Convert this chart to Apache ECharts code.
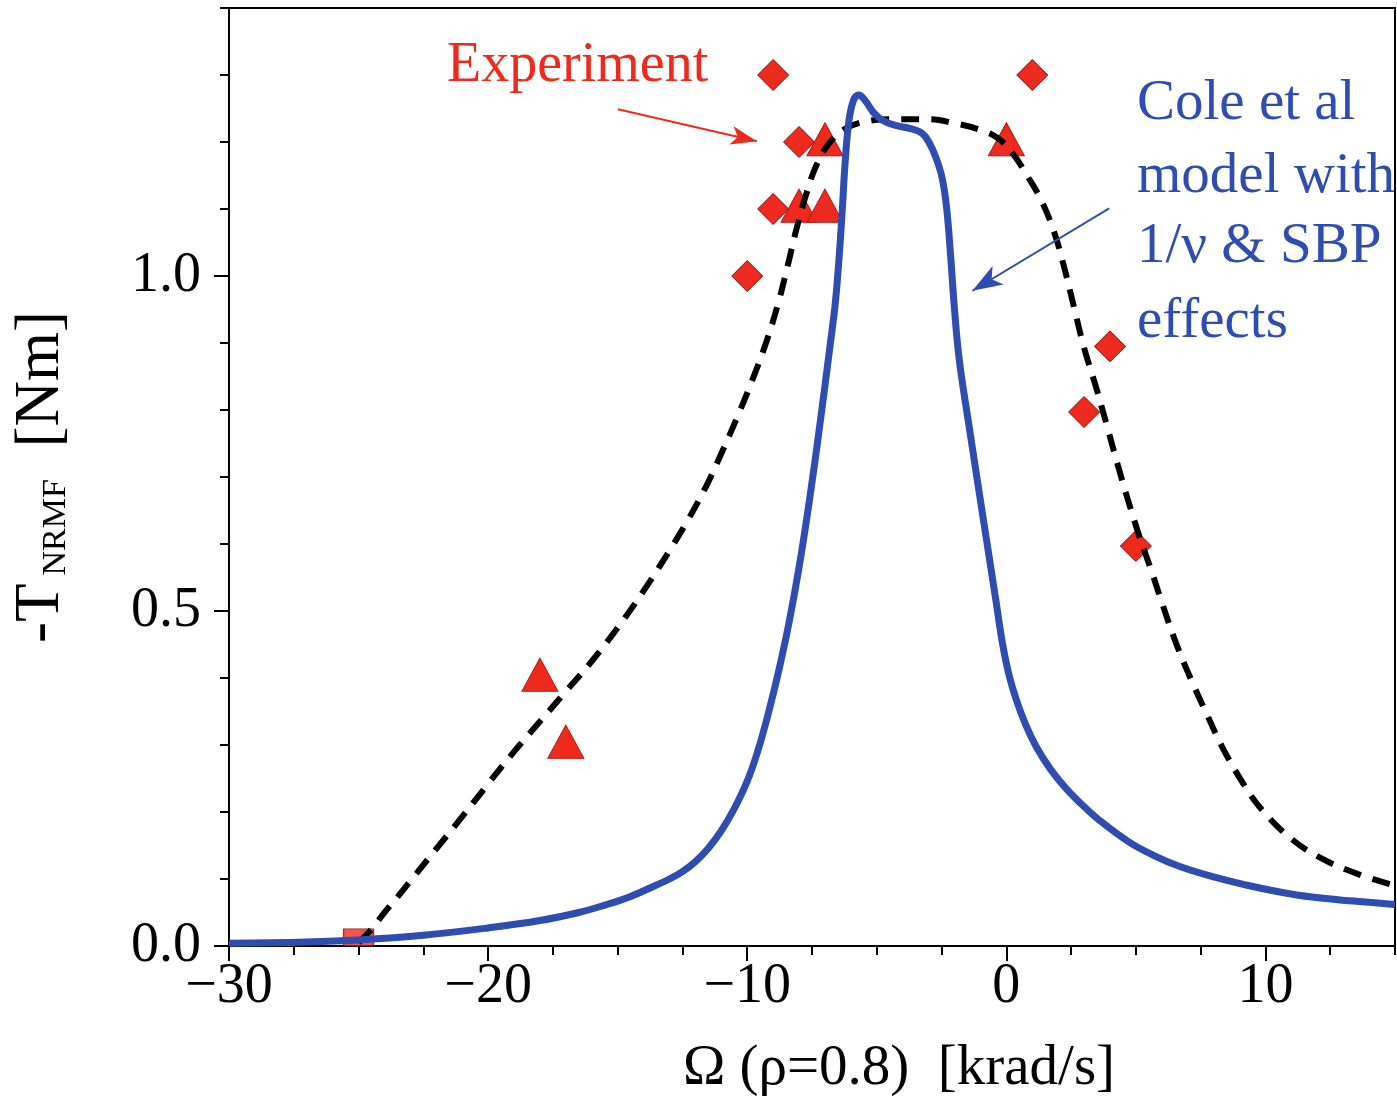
<!DOCTYPE html>
<html style="height: 100%">
<head>
    <meta charset="utf-8">
    <script src="https://cdn.jsdelivr.net/npm/echarts@6/dist/echarts.min.js"></script>
</head>
<body style="height: 100%; margin: 0; background: #fff">
    <div id="main" style="width: 1397px; height: 1096px"></div>
    <script type="text/javascript">
        // 实验点（菱形）
        var diamondX = [-9, 1, -8, -9, -10, 4, 3, 5];
        var diamondY = [1.3, 1.3, 1.2, 1.1, 1.0, 0.895, 0.797, 0.597];
        // 实验点（三角形）
        var triangleX = [-7, -8, -7, 0, -18, -17];
        var triangleY = [1.204, 1.105, 1.105, 1.204, 0.405, 0.305];
        // 方块
        var squareX = [-25];
        var squareY = [0.013];

        // 虚线 (黑)
        var dashX = [-25, -24.5, -24, -23.5, -23, -22, -21, -20, -19, -18, -17, -16, -15, -14, -13, -12.3,
            -11.6, -11, -10.4, -9.8, -9.25, -8.8, -8.44, -8.1, -7.7, -7.3, -6.8, -6.2, -5.5, -4.5, -3, -2,
            -1, -0.3, 0.3, 0.8, 1.35, 1.85, 2.24, 2.62, 3.0, 3.47, 3.9, 4.3, 4.7, 5.13, 5.6, 6.0, 6.55,
            7.17, 7.75, 8.32, 9.1, 9.87, 11.0, 12.2, 13.6, 15];
        var dashY = [0.005, 0.025, 0.05, 0.073, 0.097, 0.145, 0.193, 0.242, 0.29, 0.335, 0.38, 0.425, 0.475,
            0.53, 0.59, 0.635, 0.685, 0.735, 0.788, 0.845, 0.903, 0.96, 1.015, 1.07, 1.125, 1.168, 1.2, 1.22,
            1.23, 1.234, 1.234, 1.228, 1.218, 1.205, 1.18, 1.15, 1.113, 1.065, 1.012, 0.952, 0.893, 0.833,
            0.774, 0.718, 0.665, 0.612, 0.56, 0.513, 0.452, 0.394, 0.345, 0.298, 0.245, 0.203, 0.16, 0.13,
            0.107, 0.09];

        // Cole et al 模型 (蓝)
        var modelX = [-30, -27, -25, -22.5, -20, -18, -16.5, -15.5, -14.5, -13.5, -13, -12.5, -12, -11.5, -11,
            -10.5, -10, -9.6, -9.2, -8.8, -8.4, -8, -7.6, -7.2, -6.8, -6.6, -6.45, -6.33, -6.22, -6.08, -5.9,
            -5.7, -5.45, -5.15, -4.8, -4.3, -3.7, -3.25, -2.95, -2.7, -2.47, -2.3, -2.15, -2.0, -1.81, -1.43,
            -1.04, -0.66, -0.4, -0.15, 0.1, 0.39, 0.75, 1.16, 1.7, 2.31, 3.0, 3.58, 4.74, 5.7, 6.67, 8, 9.25,
            10.5, 11.8, 13.4, 15];
        var modelY = [0.004, 0.006, 0.009, 0.016, 0.027, 0.038, 0.05, 0.061, 0.074, 0.091, 0.1, 0.111, 0.126,
            0.146, 0.172, 0.205, 0.246, 0.29, 0.345, 0.408, 0.48, 0.565, 0.665, 0.777, 0.897, 0.96, 1.03,
            1.1, 1.17, 1.23, 1.262, 1.27, 1.262, 1.245, 1.233, 1.225, 1.22, 1.213, 1.197, 1.175, 1.145, 1.1,
            1.03, 0.95, 0.873, 0.774, 0.675, 0.58, 0.515, 0.452, 0.405, 0.367, 0.33, 0.297, 0.264, 0.235,
            0.208, 0.188, 0.155, 0.135, 0.119, 0.103, 0.091, 0.081, 0.073, 0.067, 0.062];

        // 箭头（数据坐标）
        var redArrow = [[-14.99, 1.249], [-9.63, 1.201]];
        var blueArrow = [[3.97, 1.101], [-1.31, 0.978]];

        function pairs(xs, ys) {
            return xs.map(function (x, i) { return [x, ys[i]]; });
        }

        var serif = 'Liberation Serif';
        var red = '#ee2a1e';
        var blue = '#2f4cb0';

        var myChart = echarts.init(document.getElementById('main'));

        var option = {
            backgroundColor: '#fff',
            animation: false,
            grid: {
                left: 229, right: 2, top: 8, bottom: 150,
                outerBoundsMode: 'none', containLabel: false,
                show: true, borderColor: '#000', borderWidth: 2
            },
            xAxis: [
                {
                    type: 'value', min: -30, max: 15, interval: 10, position: 'bottom',
                    axisLine: { onZero: false, lineStyle: { color: '#000', width: 2 } },
                    axisTick: { length: 15, lineStyle: { color: '#000', width: 2 } },
                    splitLine: { show: false },
                    axisLabel: {
                        showMaxLabel: false, margin: 13, color: '#000',
                        fontFamily: serif, fontSize: 56,
                        formatter: function (v) { return String(v).replace('-', '\u2212'); }
                    },
                    name: '\u03a9 (\u03c1=0.8)  [krad/s]',
                    nameLocation: 'middle', nameGap: 95,
                    nameTextStyle: { color: '#000', fontFamily: serif, fontSize: 57, padding: [0, 0, 0, 174] }
                },
                {
                    type: 'value', min: -30, max: 15, interval: 2.5, position: 'bottom',
                    axisLine: { show: false, onZero: false },
                    axisTick: { length: 9, lineStyle: { color: '#000', width: 2 } },
                    axisLabel: { show: false },
                    splitLine: { show: false }
                }
            ],
            yAxis: [
                {
                    type: 'value', min: 0, max: 1.4, interval: 0.5, position: 'left',
                    axisLine: { onZero: false, lineStyle: { color: '#000', width: 2 } },
                    axisTick: { length: 15, lineStyle: { color: '#000', width: 2 } },
                    splitLine: { show: false },
                    axisLabel: {
                        showMaxLabel: false, margin: 28, color: '#000',
                        fontFamily: serif, fontSize: 56,
                        formatter: function (v) { return v.toFixed(1); }
                    },
                    name: '{a|-T}{sub|NRMF}{a|  [Nm]}',
                    nameLocation: 'middle', nameRotate: 90, nameGap: 156,
                    nameTextStyle: {
                        color: '#000', fontFamily: serif, fontSize: 63,
                        rich: {
                            a: { fontFamily: serif, fontSize: 63, color: '#000' },
                            sub: { fontFamily: serif, fontSize: 34, color: '#000', verticalAlign: 'bottom', padding: [0, 0, 0, 8] }
                        }
                    }
                },
                {
                    type: 'value', min: 0, max: 1.4, interval: 0.1, position: 'left',
                    axisLine: { show: false, onZero: false },
                    axisTick: { length: 9, lineStyle: { color: '#000', width: 2 } },
                    axisLabel: { show: false },
                    splitLine: { show: false }
                }
            ],
            series: [
                {
                    name: 'square', type: 'scatter', z: 1,
                    symbol: 'rect', symbolSize: [30, 17],
                    itemStyle: { color: red, borderColor: '#8a1010', borderWidth: 1 },
                    data: pairs(squareX, squareY)
                },
                {
                    name: 'diamond', type: 'scatter', z: 2,
                    symbol: 'diamond', symbolSize: 31,
                    itemStyle: { color: red, borderColor: '#7a1010', borderWidth: 1, opacity: 1 },
                    data: pairs(diamondX, diamondY)
                },
                {
                    name: 'triangle', type: 'scatter', z: 2,
                    symbol: 'triangle', symbolSize: [36, 33],
                    itemStyle: { color: red, borderColor: '#b01810', borderWidth: 1, opacity: 1 },
                    data: pairs(triangleX, triangleY)
                },
                {
                    name: 'Experiment fit', type: 'line', z: 3,
                    showSymbol: false, smooth: 0.4,
                    lineStyle: { color: '#000', width: 6, type: [18, 12] },
                    data: pairs(dashX, dashY),
                    markLine: {
                        silent: true, animation: false,
                        label: { show: false },
                        lineStyle: { color: red, width: 2, type: 'solid' },
                        data: [[
                            { coord: redArrow[0], symbol: 'none' },
                            { coord: redArrow[1], symbol: 'arrow', symbolSize: [14, 26] }
                        ]]
                    }
                },
                {
                    name: 'Cole et al', type: 'line', z: 4,
                    showSymbol: false, smooth: 0.4,
                    lineStyle: { color: blue, width: 7 },
                    data: pairs(modelX, modelY),
                    markLine: {
                        silent: true, animation: false,
                        label: { show: false },
                        lineStyle: { color: blue, width: 2, type: 'solid' },
                        data: [[
                            { coord: blueArrow[0], symbol: 'none' },
                            { coord: blueArrow[1], symbol: 'arrow', symbolSize: [16, 30] }
                        ]]
                    }
                }
            ],
            graphic: [
                {
                    type: 'text', z: 10,
                    style: { text: 'Experiment', x: 447, y: 66, fill: red, font: '56px "Liberation Serif"', verticalAlign: 'middle' }
                },
                {
                    type: 'text', z: 10,
                    style: { text: 'Cole et al', x: 1137, y: 104, fill: blue, font: '57px "Liberation Serif"', verticalAlign: 'middle' }
                },
                {
                    type: 'text', z: 10,
                    style: { text: 'model with', x: 1137, y: 177, fill: blue, font: '57px "Liberation Serif"', verticalAlign: 'middle' }
                },
                {
                    type: 'text', z: 10,
                    style: { text: '1/\u03bd & SBP', x: 1137, y: 247, fill: blue, font: '57px "Liberation Serif"', verticalAlign: 'middle' }
                },
                {
                    type: 'text', z: 10,
                    style: { text: 'effects', x: 1137, y: 322, fill: blue, font: '57px "Liberation Serif"', verticalAlign: 'middle' }
                }
            ]
        };

        myChart.setOption(option);
    </script>
</body>
</html>
